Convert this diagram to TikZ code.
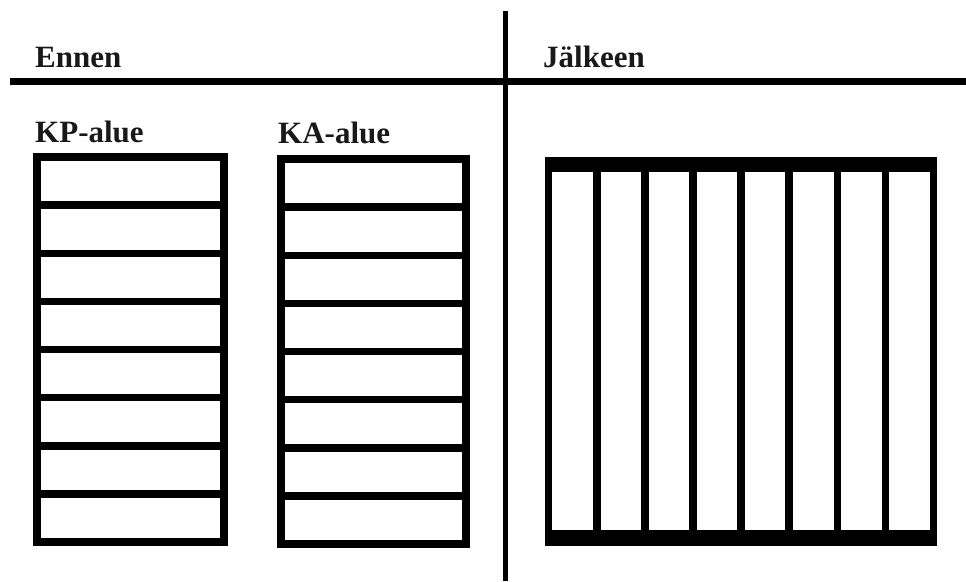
\documentclass[tikz,border=0pt]{standalone}
\usepackage{fontspec}
\setmainfont{Liberation Serif}
\begin{document}
\begin{tikzpicture}[x=1pt,y=-1pt,
  rule/.style={line width=6.5pt},
  frame/.style={line width=7.5pt},
  lbl/.style={anchor=base west,inner sep=0pt,font=\fontsize{31}{36}\selectfont\bfseries,text=black!90}]
\useasboundingbox (0,0) rectangle (966,581);
% separating rules
\draw[rule] (10,81.5) -- (966,81.5);
\draw[rule,line width=5.7pt] (505.5,11) -- (505.5,581);
% labels
\node[lbl] (ennen) at (35,67) {Ennen};
\node[lbl] (jalkeen) at (543,67) {Jälkeen};
\node[lbl] (kp) at (35,142) {KP-alue};
\node[lbl] (ka) at (278,143) {KA-alue};
% KP box
\draw[frame] (37,157) rectangle (224,542);
\foreach \i in {1,...,7} \draw[frame] (37,157+48.125*\i) -- (224,157+48.125*\i);
% KA box
\draw[frame] (281,159) rectangle (466,544);
\foreach \i in {1,...,7} \draw[frame] (281,159+48.125*\i) -- (466,159+48.125*\i);
% Jalkeen box
\fill (545,157) rectangle (937,172);
\fill (545,530) rectangle (937,546);
\foreach \i in {0,...,8} \draw[frame] (548.7+48.1*\i,157) -- (548.7+48.1*\i,546);
\end{tikzpicture}
\end{document}
